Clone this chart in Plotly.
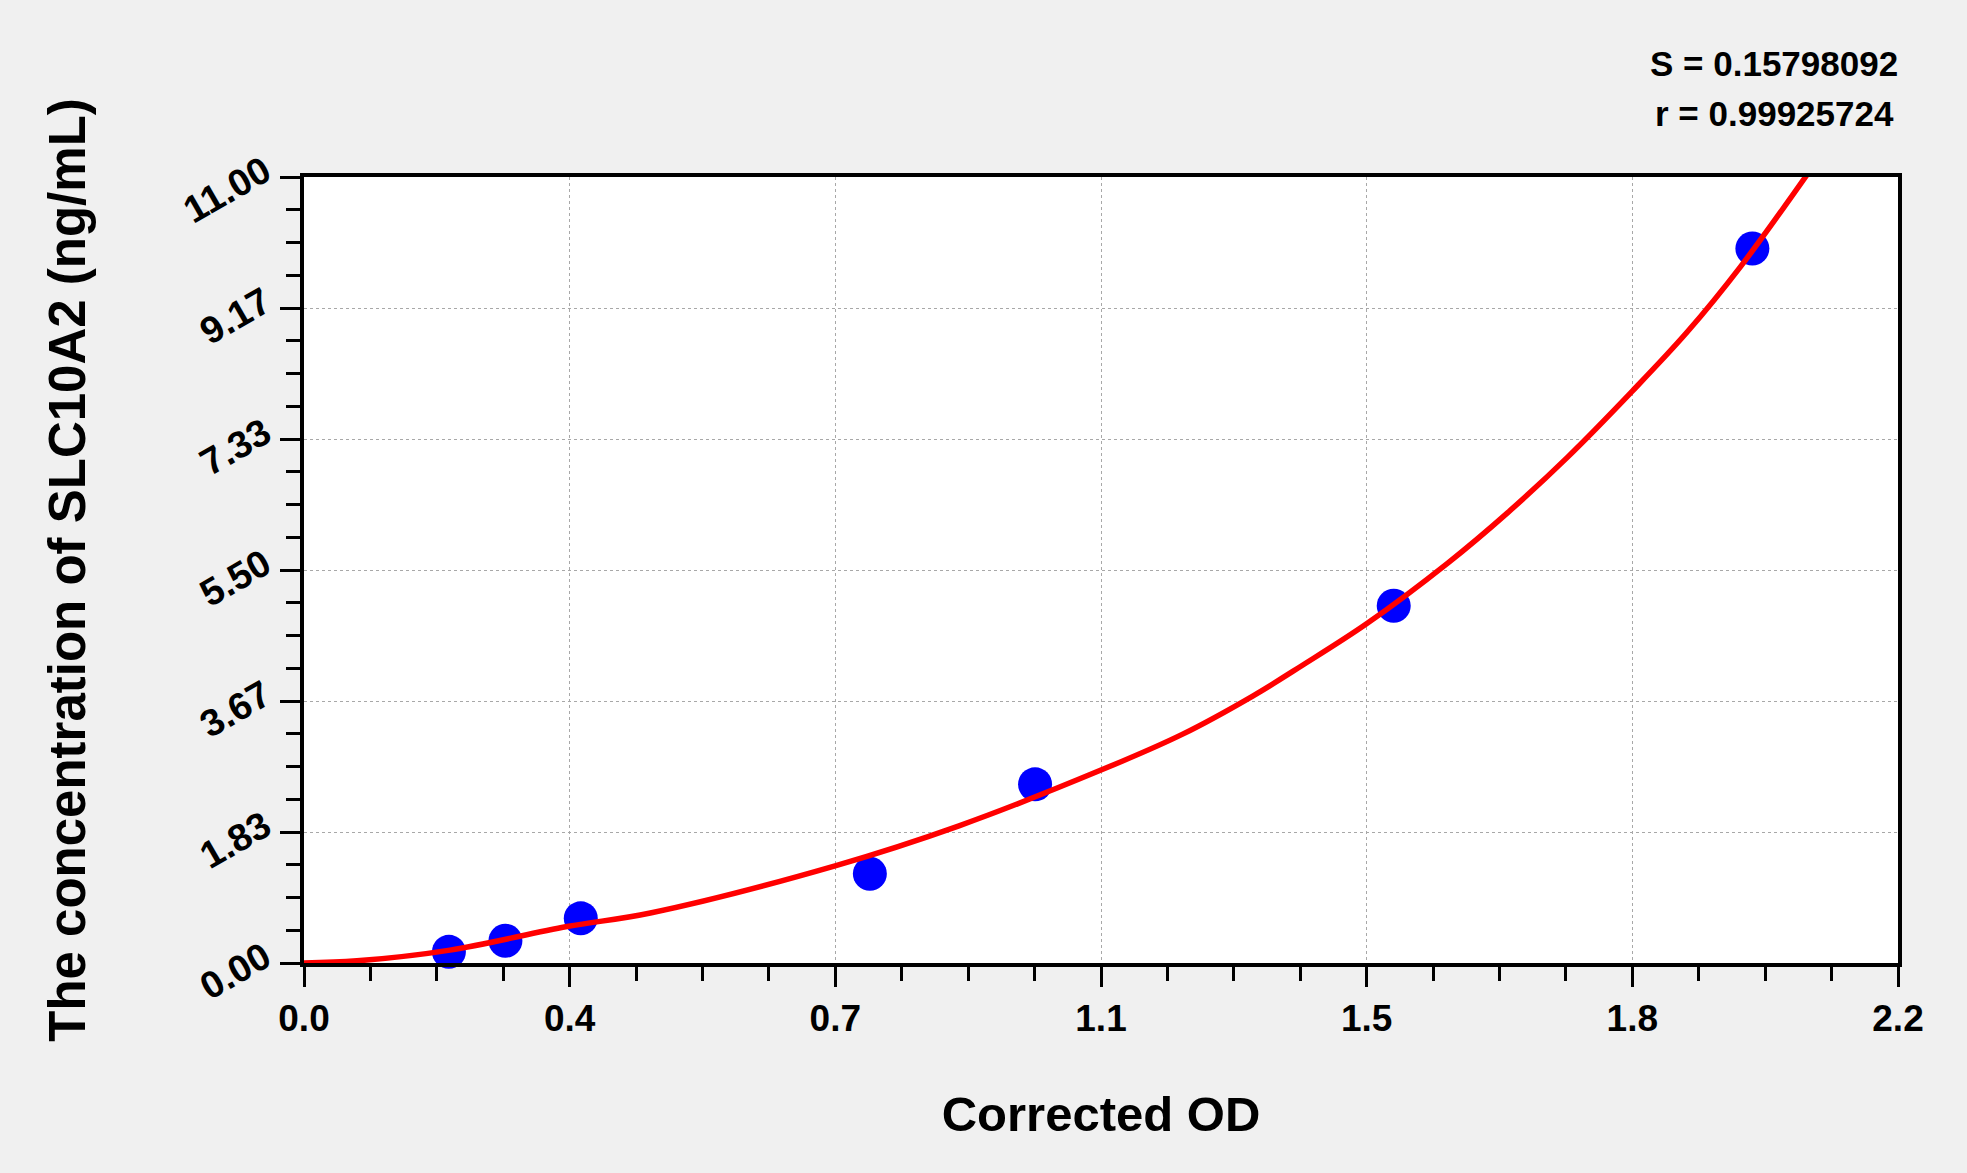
import plotly.graph_objects as go

# standard points (corrected OD vs concentration)
od = [0.200, 0.278, 0.382, 0.781, 1.009, 1.504, 1.999]
conc = [0.156, 0.312, 0.625, 1.25, 2.5, 5.0, 10.0]

# fitted curve
curve_od = [0.0, 0.073, 0.2015, 0.363, 0.478, 0.733, 0.904, 1.1, 1.212, 1.31,
            1.377, 1.467, 1.579, 1.661, 1.744, 1.833, 1.909, 1.983, 2.075]
curve_conc = [0.0, 0.03, 0.18, 0.51, 0.70, 1.36, 1.92, 2.70, 3.20, 3.74,
              4.16, 4.75, 5.60, 6.30, 7.08, 8.00, 8.83, 9.75, 11.04]

x_tickvals = [0.0, 0.36667, 0.73333, 1.1, 1.46667, 1.83333, 2.2]
x_ticktext = ["0.0", "0.4", "0.7", "1.1", "1.5", "1.8", "2.2"]
y_tickvals = [0.0, 1.83333, 3.66667, 5.5, 7.33333, 9.16667, 11.0]
y_ticktext = ["0.00", "1.83", "3.67", "5.50", "7.33", "9.17", "11.00"]

fit_s = "S = 0.15798092"
fit_r = "r = 0.99925724"

FONT = "Liberation Sans"

fig = go.Figure()
fig.add_trace(go.Scatter(
    x=od, y=conc, mode="markers",
    marker=dict(size=34, color="#0000ff"),
    cliponaxis=False, showlegend=False))
fig.add_trace(go.Scatter(
    x=curve_od, y=curve_conc, mode="lines",
    line=dict(color="#ff0000", width=5.5, shape="spline", smoothing=1.0),
    showlegend=False))

axis_common = dict(
    showline=True, linecolor="black", linewidth=4, mirror=True,
    ticks="outside", tickcolor="black", tickwidth=3, ticklen=20,
    showgrid=True, gridcolor="#a8a8a8", gridwidth=1, griddash="3px,3px",
    zeroline=False,
)

fig.update_xaxes(
    range=[0, 2.2], tickmode="array", tickvals=x_tickvals, ticktext=x_ticktext,
    tickfont=dict(family=FONT, size=37, color="black", weight="bold"),
    minor=dict(ticks="outside", ticklen=14, tickwidth=3, tickcolor="black",
               tick0=0, dtick=0.0916667, showgrid=False),
    title=dict(text="Corrected OD", standoff=59,
               font=dict(family=FONT, size=49, color="black", weight="bold")),
    **axis_common)
fig.update_yaxes(
    range=[0, 11], tickmode="array", tickvals=y_tickvals, ticktext=y_ticktext,
    tickangle=-30, ticklabelshift=-10, ticklabelstandoff=8,
    tickfont=dict(family=FONT, size=38, color="black", weight="bold"),
    minor=dict(ticks="outside", ticklen=14, tickwidth=3, tickcolor="black",
               tick0=0, dtick=0.458333, showgrid=False),
    title=dict(text="The concentration of SLC10A2 (ng/mL)", standoff=76,
               font=dict(family=FONT, size=51, color="black", weight="bold")),
    **axis_common)

fig.add_annotation(xref="paper", yref="paper", x=1.001, y=1.145,
                   xanchor="right", yanchor="middle", showarrow=False, text=fit_s,
                   font=dict(family=FONT, size=35, color="black", weight="bold"))
fig.add_annotation(xref="paper", yref="paper", x=0.999, y=1.081,
                   xanchor="right", yanchor="middle", showarrow=False, text=fit_r,
                   font=dict(family=FONT, size=35, color="black", weight="bold"))

fig.update_layout(
    width=1967, height=1173,
    margin=dict(l=304, r=69, t=177, b=210, pad=0),
    paper_bgcolor="#f0f0f0", plot_bgcolor="white",
)

fig.write_html("out.html", config={"displayModeBar": False},
               post_script="document.body.style.margin='0';"
                           "document.body.style.background='#f0f0f0';")
